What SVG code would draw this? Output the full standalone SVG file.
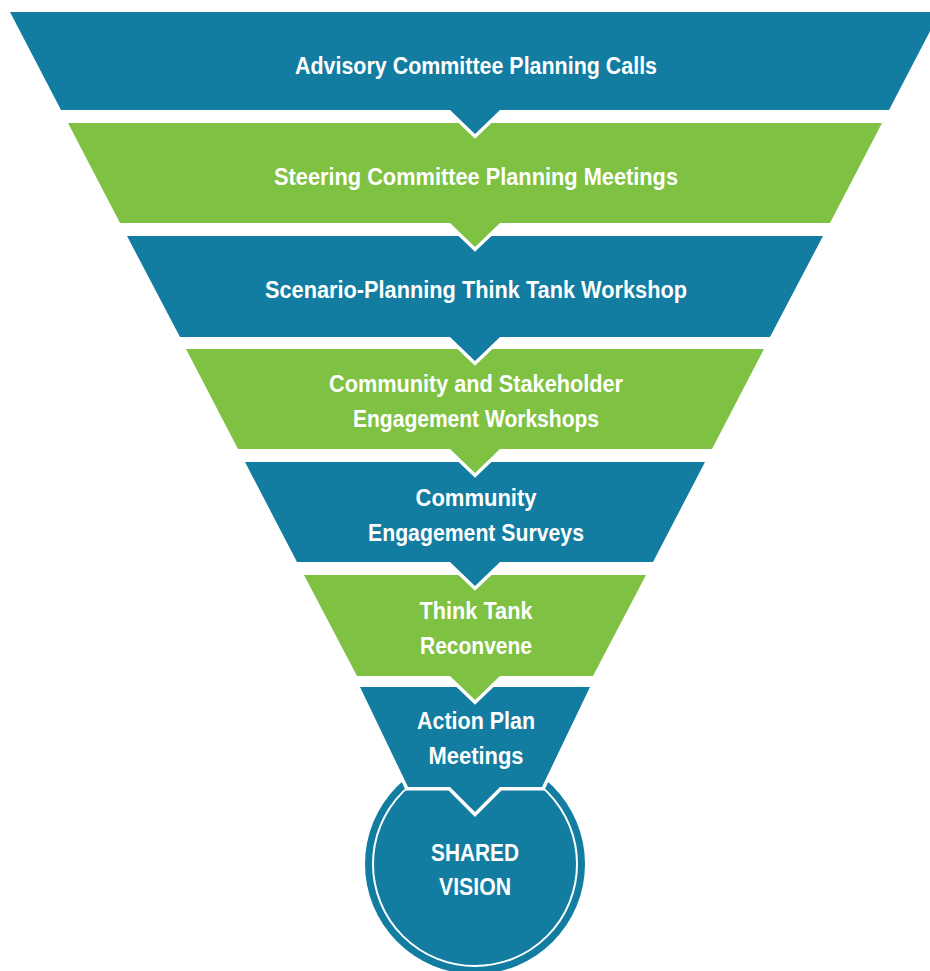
<svg xmlns="http://www.w3.org/2000/svg" width="930" height="971" viewBox="0 0 930 971">
<style>
.b{fill:#127ca1;stroke:#fff;stroke-width:7;stroke-linejoin:miter;paint-order:stroke}
.g{fill:#7fc243;stroke:#fff;stroke-width:7;stroke-linejoin:miter;paint-order:stroke}
.t{fill:#fff;font-family:"Liberation Sans",Arial,sans-serif;font-weight:bold;font-size:24px;text-anchor:middle}
</style>
<rect width="930" height="971" fill="#fff"/>
<g id="shared-vision">
<circle cx="475" cy="864" r="110" fill="#127ca1"/>
<circle cx="475" cy="864" r="102" fill="none" stroke="#fff" stroke-width="2"/>
<text class="t" x="475" y="861" textLength="88" lengthAdjust="spacingAndGlyphs">SHARED</text>
<text class="t" x="475" y="895" textLength="72" lengthAdjust="spacingAndGlyphs">VISION</text>
</g>
<g id="band7">
<path class="b" d="M360,687 L590,687 L542,787 L500,787 L475,812 L450,787 L408,787 Z"/>
<text class="t" x="476" y="729" textLength="118" lengthAdjust="spacingAndGlyphs">Action Plan</text>
<text class="t" x="476" y="764" textLength="95" lengthAdjust="spacingAndGlyphs">Meetings</text>
</g>
<g id="band6">
<path class="g" d="M304,575 L646,575 L593,676 L500,676 L475,700 L450,676 L357,676 Z"/>
<text class="t" x="476" y="619" textLength="113" lengthAdjust="spacingAndGlyphs">Think Tank</text>
<text class="t" x="476" y="654" textLength="112" lengthAdjust="spacingAndGlyphs">Reconvene</text>
</g>
<g id="band5">
<path class="b" d="M245,462 L705,462 L653,562 L500,562 L475,586 L450,562 L297,562 Z"/>
<text class="t" x="476" y="506" textLength="121" lengthAdjust="spacingAndGlyphs">Community</text>
<text class="t" x="476" y="541" textLength="216" lengthAdjust="spacingAndGlyphs">Engagement Surveys</text>
</g>
<g id="band4">
<path class="g" d="M186,349 L764,349 L712,449 L500,449 L475,473 L450,449 L238,449 Z"/>
<text class="t" x="476" y="392" textLength="294" lengthAdjust="spacingAndGlyphs">Community and Stakeholder</text>
<text class="t" x="476" y="427" textLength="246" lengthAdjust="spacingAndGlyphs">Engagement Workshops</text>
</g>
<g id="band3">
<path class="b" d="M127,236 L823,236 L770,337 L500,337 L475,361 L450,337 L180,337 Z"/>
<text class="t" x="476" y="298" textLength="422" lengthAdjust="spacingAndGlyphs">Scenario-Planning Think Tank Workshop</text>
</g>
<g id="band2">
<path class="g" d="M68,123 L882,123 L830,223 L500,223 L475,247 L450,223 L120,223 Z"/>
<text class="t" x="476" y="185" textLength="404" lengthAdjust="spacingAndGlyphs">Steering Committee Planning Meetings</text>
</g>
<g id="band1">
<path class="b" d="M10,12 L940,12 L889,110 L500,110 L475,134 L450,110 L61,110 Z"/>
<text class="t" x="476" y="74" textLength="362" lengthAdjust="spacingAndGlyphs">Advisory Committee Planning Calls</text>
</g>
<g id="connectors"/>
</svg>
